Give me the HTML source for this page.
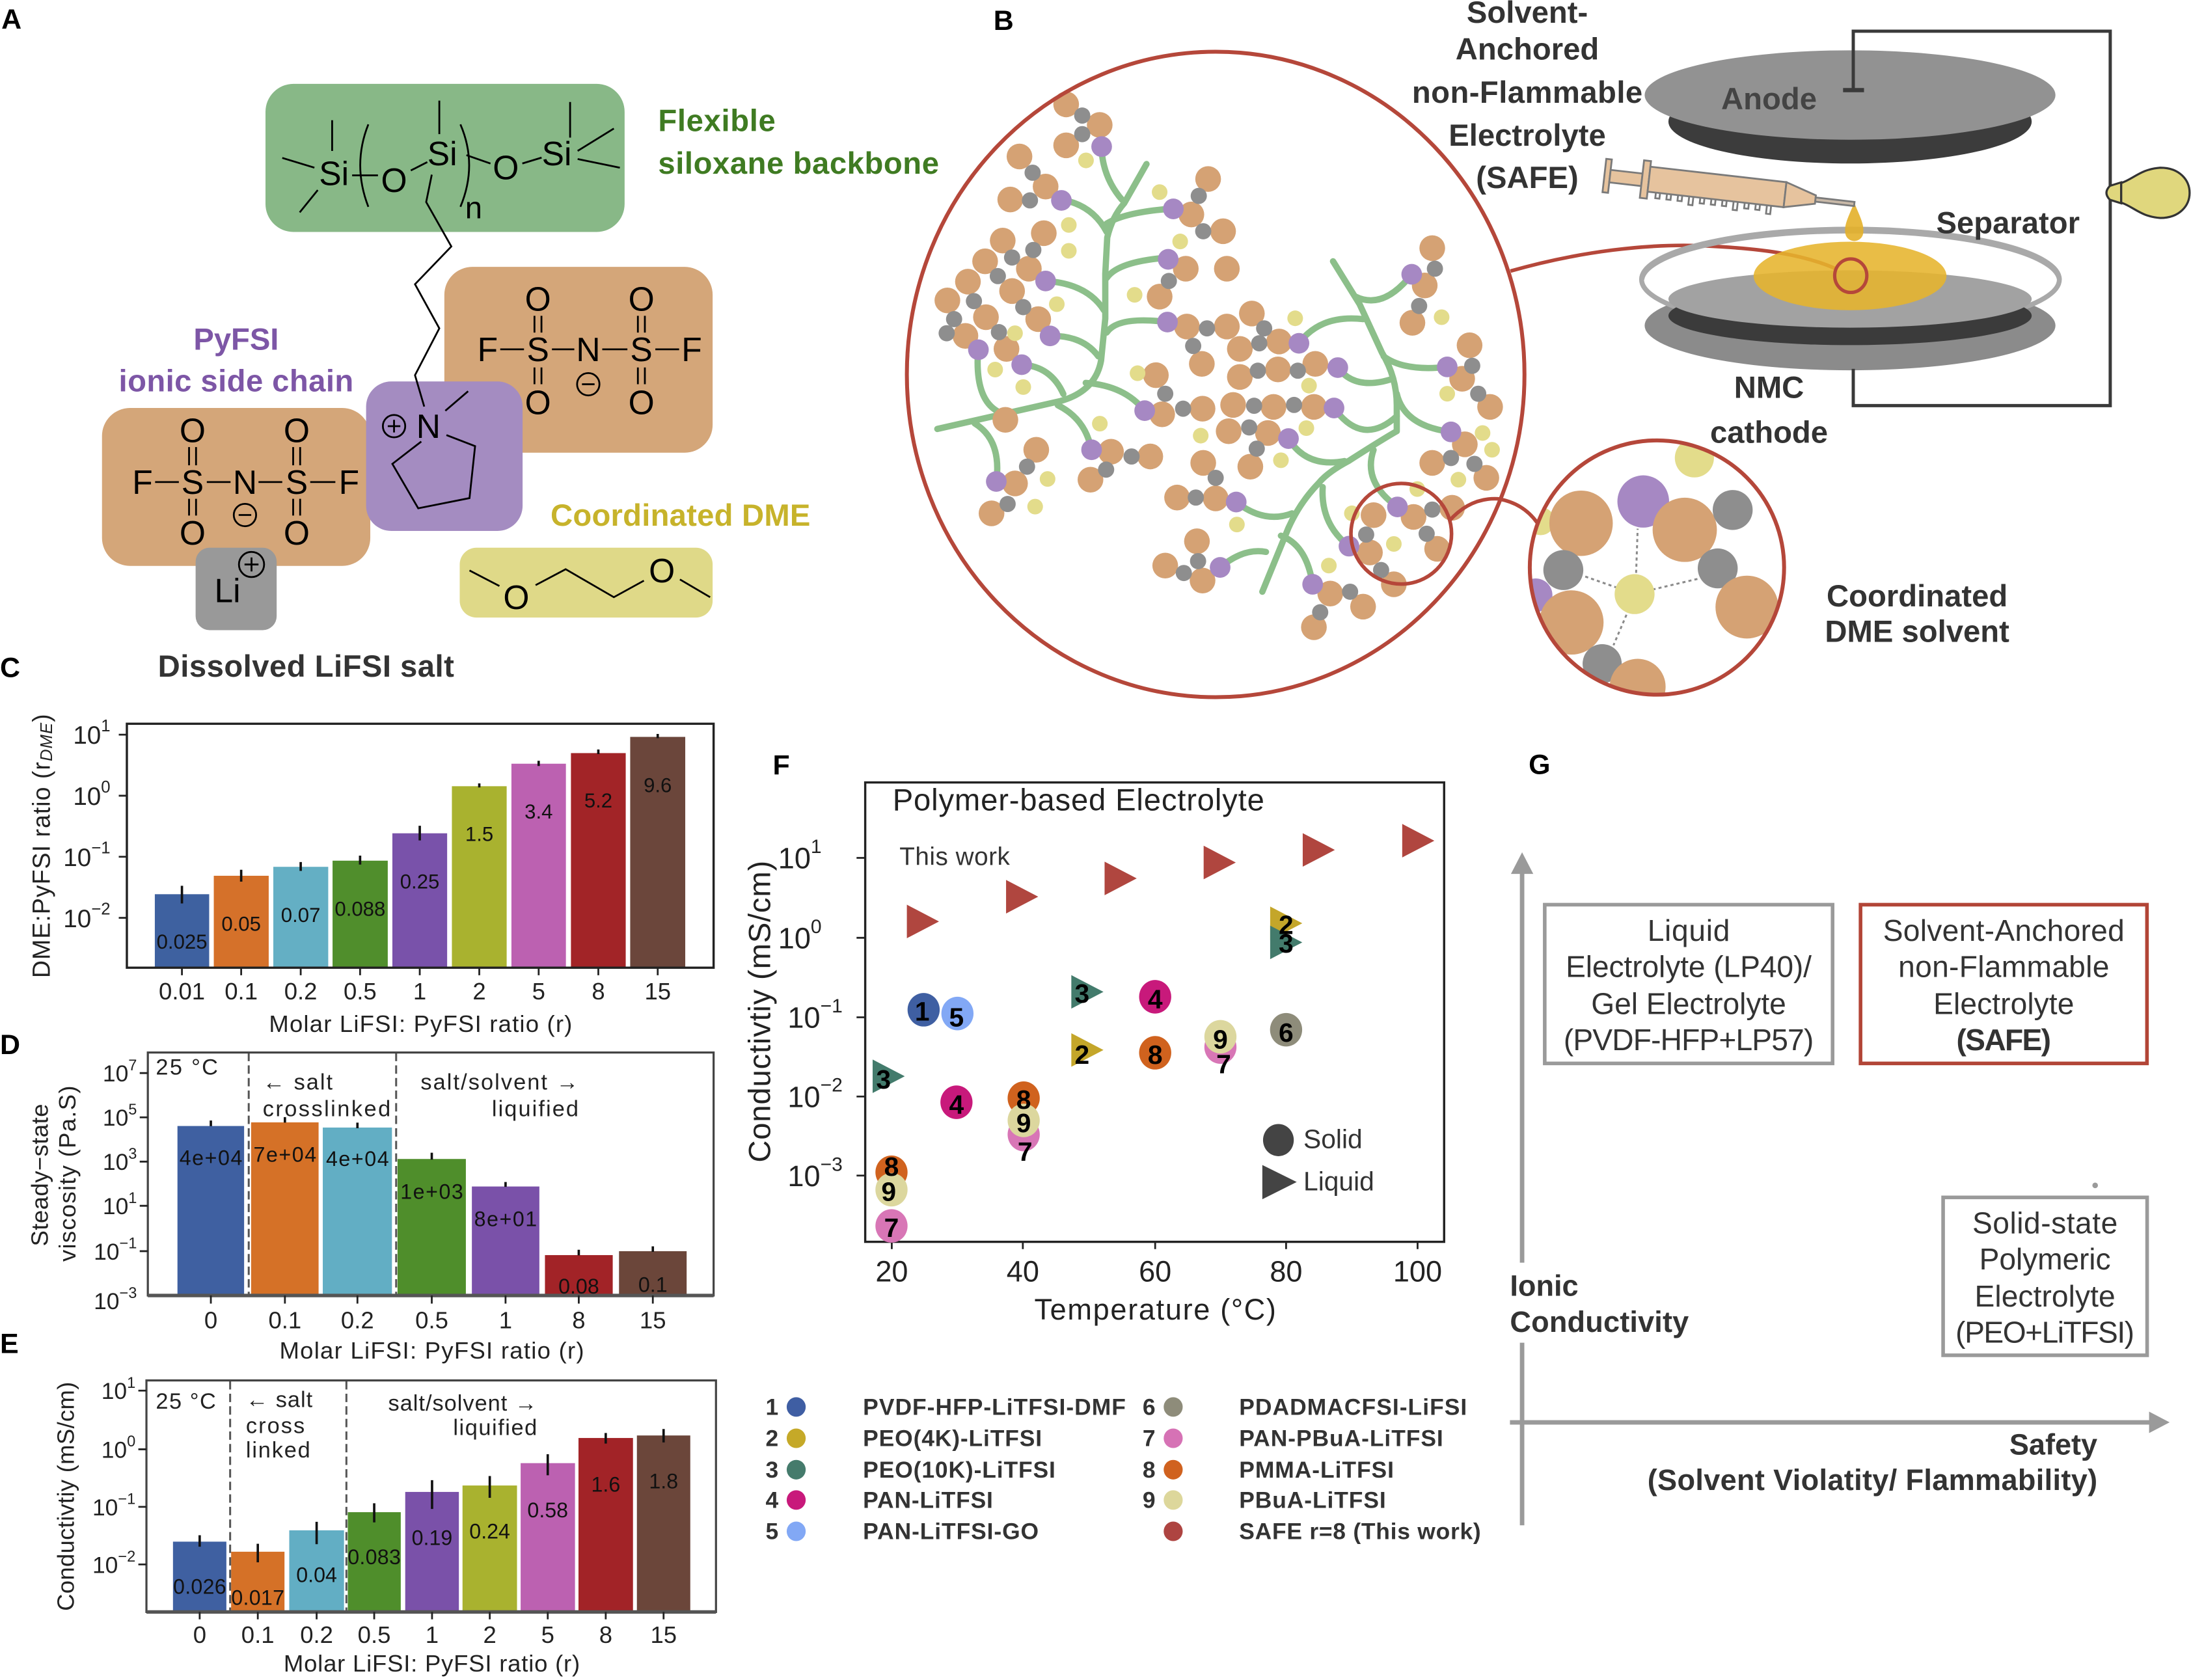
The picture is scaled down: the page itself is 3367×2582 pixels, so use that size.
<!DOCTYPE html>
<html><head><meta charset="utf-8">
<style>
html,body{margin:0;padding:0;background:#fff;}
svg{display:block;}
.o{fill:#d5a274}.g{fill:#8e8e8e}.p{fill:#a688c3}.y{fill:#e3dc8b}
.tr{fill:none;stroke:#8cbf8a;stroke-width:4.5;stroke-linecap:round;stroke-linejoin:round}
.bd{stroke:#000;stroke-width:1.3;fill:none}
.ch{font-size:24px;text-anchor:middle;dominant-baseline:central;fill:#000}
.lb{font-weight:bold;font-size:22px;dominant-baseline:central}
.pl{font-weight:bold;font-size:20px;dominant-baseline:central;fill:#000}
.c{dominant-baseline:central}
.m{text-anchor:middle}
.e{text-anchor:end}
.ax{fill:none;stroke:#222;stroke-width:1.6}
.eb{stroke:#111;stroke-width:1.7}
.tk{stroke:#222;stroke-width:1.3}
.dash{stroke:#555;stroke-width:1.4;stroke-dasharray:6 3}
.gb{fill:none;stroke:#9a9a9a;stroke-width:2.6}
</style></head><body>
<svg xmlns="http://www.w3.org/2000/svg" width="3367" height="2582" viewBox="0 0 1568 1202.4" font-family="'Liberation Sans', Arial, sans-serif">
<rect width="1568" height="1202.4" fill="#fff"/>

<!-- ================= PANEL A ================= -->
<text x="1" y="14" class="pl">A</text>
<rect x="190" y="60" width="257" height="106" rx="20" fill="#88b887"/>
<rect x="318" y="191" width="192" height="133" rx="20" fill="#d4a679"/>
<rect x="73" y="292" width="192" height="113" rx="20" fill="#d4a679"/>
<rect x="262" y="273" width="112" height="107" rx="18" fill="#a48cc1"/>
<rect x="140" y="392" width="58" height="59" rx="10" fill="#999"/>
<rect x="329" y="392" width="181" height="50" rx="12" fill="#dfd988"/>

<text x="239" y="124" class="ch">Si</text>
<text x="282" y="129" class="ch">O</text>
<text x="316.5" y="110" class="ch">Si</text>
<text x="339" y="149" class="ch" style="font-size:22px">n</text>
<text x="362" y="120" class="ch">O</text>
<text x="398.4" y="110" class="ch">Si</text>
<path class="bd" d="M202,113 L225,120 M237.7,86 L237.7,108 M214.5,152 L227.4,136 M252,125.5 L270.5,125.5 M263.6,89 Q252,118 263.6,148 M329.5,89 Q342,118 329.5,148 M294,122 L305.8,116 M314.4,72 L314.4,96 M333.8,111 L351,117 M373.8,117 L387.6,112.8 M408,73 L408,98.5 M413.4,108 L439.3,92 M413.4,113.8 L443.6,120"/>
<path class="bd" d="M309,125 L305,144.6 L323,176.4 L297,203.4 L314.4,235 L297,268.5 L303.6,291"/>

<text x="349" y="250" class="ch">F</text>
<text x="385" y="250" class="ch">S</text>
<text x="421" y="250" class="ch">N</text>
<text x="459" y="250" class="ch">S</text>
<text x="495" y="250" class="ch">F</text>
<text x="385" y="214" class="ch">O</text>
<text x="459" y="214" class="ch">O</text>
<text x="385" y="288" class="ch">O</text>
<text x="459" y="288" class="ch">O</text>
<path class="bd" d="M358,250 L375,250 M395,250 L411,250 M431,250 L449,250 M469,250 L486,250 M382.5,226 L382.5,238 M387.5,226 L387.5,238 M456.5,226 L456.5,238 M461.5,226 L461.5,238 M382.5,263 L382.5,275 M387.5,263 L387.5,275 M456.5,263 L456.5,275 M461.5,263 L461.5,275"/>
<circle cx="421" cy="275" r="8" class="bd"/><path class="bd" d="M416.5,275 L425.5,275"/>

<text x="102" y="345" class="ch">F</text>
<text x="137.8" y="345" class="ch">S</text>
<text x="175.3" y="345" class="ch">N</text>
<text x="212.3" y="345" class="ch">S</text>
<text x="249.8" y="345" class="ch">F</text>
<text x="137.8" y="308" class="ch">O</text>
<text x="212.3" y="308" class="ch">O</text>
<text x="137.8" y="381.3" class="ch">O</text>
<text x="212.3" y="381.3" class="ch">O</text>
<path class="bd" d="M111,345 L128,345 M148,345 L165,345 M185,345 L202,345 M222,345 L240,345 M135.3,320 L135.3,333 M140.3,320 L140.3,333 M209.8,320 L209.8,333 M214.8,320 L214.8,333 M135.3,357 L135.3,369 M140.3,357 L140.3,369 M209.8,357 L209.8,369 M214.8,357 L214.8,369"/>
<circle cx="175.3" cy="368.6" r="8" class="bd"/><path class="bd" d="M170.8,368.6 L179.8,368.6"/>

<circle cx="282" cy="305" r="8" class="bd"/><path class="bd" d="M277.5,305 L286.5,305 M282,300.5 L282,309.5"/>
<text x="306.6" y="305" class="ch">N</text>
<path class="bd" d="M318.7,294 L335,280 M301.5,316 L280.8,332 L299.3,363.8 L336,356.5 L340,319.3 L319.5,311.4"/>

<text x="162.8" y="422.6" class="ch">Li</text>
<circle cx="180" cy="404" r="9" class="bd"/><path class="bd" d="M175,404 L185,404 M180,399 L180,409"/>

<text x="369.5" y="427.4" class="ch">O</text>
<text x="473.7" y="408.3" class="ch">O</text>
<path class="bd" d="M336,408.3 L357.4,419.4 M383.3,418.8 L404.8,407.4 L439.3,427.4 L460.8,415.6 M486.6,414.7 L508.2,427.4"/>

<text x="471" y="86.5" class="lb" fill="#3f7b22" textLength="84">Flexible</text>
<text x="471" y="117" class="lb" fill="#3f7b22" textLength="201">siloxane backbone</text>
<text x="169" y="243" class="lb m" fill="#7d56a6" textLength="61">PyFSI</text>
<text x="169" y="273" class="lb m" fill="#7d56a6" textLength="168">ionic side chain</text>
<text x="394" y="369" class="lb" fill="#c7b32b" textLength="186">Coordinated DME</text>
<text x="113" y="477" class="lb" fill="#333" textLength="212">Dissolved LiFSI salt</text>

<!-- ================= PANEL B ================= -->
<text x="711" y="15" class="pl">B</text>

<g class="tr">
<path d="M670.8,307 L759,287 Q784,280 788,258 L791,228 L791,196 L792.4,170 Q796,155 804.5,145.5 L820.5,117.4"/>
<path d="M803,143 Q790,128 788.4,108"/>
<path d="M792,166 Q782,147 760.4,143"/>
<path d="M792,160 Q805,152 836.5,149.5"/>
<path d="M792,199 Q800,187 836.5,184.3"/>
<path d="M790,222 Q778,203 748.3,201.1"/>
<path d="M792,238 Q800,226 835.5,230.5"/>
<path d="M786,255 Q775,240 751.5,240.4"/>
<path d="M761,282 Q752,262 731,261"/>
<path d="M719,296.5 Q697,290 700,250.3"/>
<path d="M697.5,303 Q717,315 713,344.6"/>
<path d="M757,290 Q777,300 781,322"/>
<path d="M777,274 Q805,276 819,293.9"/>
<path d="M954,187 L973,217.7 L989,252.4 Q999.6,270 999.6,290 L999.6,308.6 Q990,314 965,330 Q950,338 943.5,346 Q930,360 922,378 L903.4,423.5"/>
<path d="M970.2,212.3 Q990,222 1010.3,196.3"/>
<path d="M975.5,228.4 Q945,225 929.6,245.7"/>
<path d="M990.2,255 Q1005,266 1035.7,262.6"/>
<path d="M997,271 Q970,280 957.4,263.1"/>
<path d="M999.6,281.8 Q1005,305 1038.4,309.1"/>
<path d="M999.6,297.9 Q975,320 954.7,292"/>
<path d="M962.2,330 Q935,335 922.1,313.9"/>
<path d="M983,322 Q975,345 1000.1,362.8"/>
<path d="M946.6,348.6 Q945,375 965.4,390.9"/>
<path d="M924.6,367.4 Q905,375 884.7,359.3"/>
<path d="M916.7,383.4 Q935,390 939.4,418.2"/>
<path d="M906,395 Q890,392 873.2,406.1"/>
</g>

<g class="o">
<circle cx="763" cy="74.7" r="9.2"/><circle cx="787" cy="89.4" r="9.2"/><circle cx="763" cy="104" r="9.2"/><circle cx="729.6" cy="112" r="9.2"/><circle cx="748.3" cy="133.5" r="9.2"/><circle cx="723" cy="142.8" r="9.2"/><circle cx="747" cy="166.9" r="9.2"/><circle cx="717.6" cy="172.2" r="9.2"/><circle cx="705" cy="187" r="9.2"/><circle cx="736.3" cy="192.3" r="9.2"/><circle cx="692.7" cy="201.6" r="9.2"/><circle cx="724.3" cy="208.3" r="9.2"/><circle cx="678" cy="215" r="9.2"/><circle cx="705.6" cy="227" r="9.2"/><circle cx="743" cy="228.4" r="9.2"/><circle cx="690.9" cy="240.4" r="9.2"/><circle cx="720.3" cy="249.7" r="9.2"/>
<circle cx="864.6" cy="128.1" r="9.2"/><circle cx="852.6" cy="153.5" r="9.2"/><circle cx="875.3" cy="165.5" r="9.2"/><circle cx="848.6" cy="192.3" r="9.2"/><circle cx="878" cy="192.3" r="9.2"/><circle cx="829.9" cy="212.3" r="9.2"/><circle cx="849.4" cy="233.7" r="9.2"/><circle cx="878" cy="233.7" r="9.2"/><circle cx="895.9" cy="224.4" r="9.2"/><circle cx="860.1" cy="260.4" r="9.2"/><circle cx="887.3" cy="249.7" r="9.2"/><circle cx="915.4" cy="244.4" r="9.2"/><circle cx="887.3" cy="269.8" r="9.2"/><circle cx="914.6" cy="264.4" r="9.2"/><circle cx="941.3" cy="260.4" r="9.2"/><circle cx="827.2" cy="268.5" r="9.2"/><circle cx="831.7" cy="296.5" r="9.2"/><circle cx="860.6" cy="292.5" r="9.2"/><circle cx="882.5" cy="289.8" r="9.2"/><circle cx="911.4" cy="291.2" r="9.2"/><circle cx="940.3" cy="291.2" r="9.2"/><circle cx="879.3" cy="308.6" r="9.2"/><circle cx="907.4" cy="309.9" r="9.2"/><circle cx="719.5" cy="300.5" r="9.2"/><circle cx="741.6" cy="321.9" r="9.2"/><circle cx="795.1" cy="323.3" r="9.2"/><circle cx="823.2" cy="326.7" r="9.2"/><circle cx="780.4" cy="343.3" r="9.2"/><circle cx="726.4" cy="346" r="9.2"/><circle cx="709.6" cy="367.4" r="9.2"/><circle cx="861.1" cy="331.3" r="9.2"/><circle cx="894.8" cy="334" r="9.2"/><circle cx="842.4" cy="356.1" r="9.2"/><circle cx="870" cy="356.7" r="9.2"/><circle cx="856.6" cy="387.4" r="9.2"/><circle cx="833.9" cy="404.8" r="9.2"/><circle cx="860.6" cy="415.5" r="9.2"/><circle cx="940.3" cy="448.9" r="9.2"/><circle cx="975.5" cy="434.2" r="9.2"/><circle cx="952" cy="424.8" r="9.2"/><circle cx="983" cy="368.7" r="9.2"/><circle cx="1011.6" cy="370" r="9.2"/><circle cx="980.4" cy="395.4" r="9.2"/><circle cx="1028.5" cy="392.8" r="9.2"/><circle cx="997.5" cy="418.2" r="9.2"/>
<circle cx="1025" cy="177.6" r="9.2"/><circle cx="1019.6" cy="204.3" r="9.2"/><circle cx="1010.8" cy="231" r="9.2"/><circle cx="1051.7" cy="247.1" r="9.2"/><circle cx="1046.4" cy="271.1" r="9.2"/><circle cx="1066.4" cy="291.2" r="9.2"/><circle cx="1048.3" cy="318" r="9.2"/><circle cx="1025" cy="331.3" r="9.2"/><circle cx="1063.7" cy="342" r="9.2"/><circle cx="1039.2" cy="363.4" r="9.2"/>
</g>
<g class="g">
<circle cx="774.5" cy="82.7" r="5.8"/><circle cx="774.5" cy="96" r="5.8"/><circle cx="739" cy="123.6" r="5.8"/><circle cx="737.1" cy="143.4" r="5.8"/><circle cx="739.5" cy="178.9" r="5.8"/><circle cx="724.3" cy="184.3" r="5.8"/><circle cx="714.1" cy="197.6" r="5.8"/><circle cx="697" cy="215.5" r="5.8"/><circle cx="682.8" cy="228.4" r="5.8"/><circle cx="677.5" cy="238.5" r="5.8"/><circle cx="732.3" cy="219.8" r="5.8"/><circle cx="714.9" cy="237.7" r="5.8"/><circle cx="857.9" cy="140.2" r="5.8"/><circle cx="861.1" cy="165.5" r="5.8"/><circle cx="836.5" cy="201.1" r="5.8"/><circle cx="863.8" cy="235" r="5.8"/><circle cx="853.9" cy="247.6" r="5.8"/><circle cx="904.7" cy="235" r="5.8"/><circle cx="901.2" cy="245.7" r="5.8"/><circle cx="900.2" cy="265.3" r="5.8"/><circle cx="928.8" cy="265.3" r="5.8"/><circle cx="833.9" cy="281.8" r="5.8"/><circle cx="846.7" cy="292.5" r="5.8"/><circle cx="897.5" cy="290.4" r="5.8"/><circle cx="926.1" cy="289.8" r="5.8"/><circle cx="894" cy="305.9" r="5.8"/><circle cx="899.4" cy="321.1" r="5.8"/><circle cx="809.8" cy="326.7" r="5.8"/><circle cx="791.6" cy="336.1" r="5.8"/><circle cx="735" cy="334" r="5.8"/><circle cx="721.1" cy="360.7" r="5.8"/><circle cx="870" cy="342" r="5.8"/><circle cx="855.8" cy="356.1" r="5.8"/><circle cx="857.4" cy="401.6" r="5.8"/><circle cx="847.2" cy="410.1" r="5.8"/><circle cx="966.2" cy="423.5" r="5.8"/><circle cx="944.8" cy="438.2" r="5.8"/><circle cx="977.7" cy="382.6" r="5.8"/><circle cx="988.4" cy="408" r="5.8"/><circle cx="1021" cy="382" r="5.8"/><circle cx="1025" cy="364.7" r="5.8"/><circle cx="1026.9" cy="192.3" r="5.8"/><circle cx="1015.6" cy="219" r="5.8"/><circle cx="1053.6" cy="261.8" r="5.8"/><circle cx="1057.9" cy="281.8" r="5.8"/><circle cx="1038.4" cy="327.8" r="5.8"/><circle cx="1055.2" cy="332" r="5.8"/>
</g>
<g class="p">
<circle cx="788.4" cy="104.9" r="7.4"/><circle cx="759.6" cy="143.4" r="7.4"/><circle cx="748.3" cy="201.1" r="7.4"/><circle cx="751.5" cy="240.4" r="7.4"/><circle cx="700.2" cy="250.3" r="7.4"/><circle cx="731.2" cy="261" r="7.4"/><circle cx="839.7" cy="149.5" r="7.4"/><circle cx="836" cy="185.6" r="7.4"/><circle cx="835.5" cy="230.5" r="7.4"/><circle cx="929.6" cy="245.7" r="7.4"/><circle cx="957.4" cy="263.1" r="7.4"/><circle cx="819.2" cy="293.9" r="7.4"/><circle cx="954.7" cy="292" r="7.4"/><circle cx="922.1" cy="313.9" r="7.4"/><circle cx="781.2" cy="321.9" r="7.4"/><circle cx="713" cy="344.6" r="7.4"/><circle cx="884.7" cy="359.3" r="7.4"/><circle cx="873.2" cy="406.1" r="7.4"/><circle cx="939.4" cy="418.2" r="7.4"/><circle cx="965.4" cy="390.9" r="7.4"/><circle cx="1000.1" cy="362.8" r="7.4"/><circle cx="1010.3" cy="196.3" r="7.4"/><circle cx="1035.7" cy="262.6" r="7.4"/><circle cx="1038.4" cy="309.1" r="7.4"/>
</g>
<g class="y">
<circle cx="777.2" cy="114.8" r="5.6"/><circle cx="829.9" cy="137.5" r="5.6"/><circle cx="764.9" cy="161" r="5.6"/><circle cx="764.9" cy="179.5" r="5.6"/><circle cx="844.6" cy="172.8" r="5.6"/><circle cx="812" cy="211" r="5.6"/><circle cx="756.3" cy="217.7" r="5.6"/><circle cx="726.4" cy="238.5" r="5.6"/><circle cx="712.2" cy="264.5" r="5.6"/><circle cx="732.3" cy="277" r="5.6"/><circle cx="814.1" cy="267.1" r="5.6"/><circle cx="926.9" cy="227.8" r="5.6"/><circle cx="936.8" cy="276" r="5.6"/><circle cx="787.1" cy="303.2" r="5.6"/><circle cx="859.3" cy="311.8" r="5.6"/><circle cx="934.9" cy="306.4" r="5.6"/><circle cx="749.7" cy="342.8" r="5.6"/><circle cx="740.8" cy="362.6" r="5.6"/><circle cx="916.7" cy="329.4" r="5.6"/><circle cx="885.2" cy="375.4" r="5.6"/><circle cx="951" cy="404.8" r="5.6"/><circle cx="997.5" cy="389.3" r="5.6"/><circle cx="1031.7" cy="227" r="5.6"/><circle cx="1035.7" cy="281.8" r="5.6"/><circle cx="1061" cy="309.9" r="5.6"/><circle cx="1067.8" cy="321.9" r="5.6"/><circle cx="1043.7" cy="343.3" r="5.6"/><circle cx="1014.3" cy="350" r="5.6"/><circle cx="967.5" cy="367.4" r="5.6"/>
</g>

<ellipse cx="870" cy="268" rx="221" ry="231" fill="none" stroke="#b5473a" stroke-width="2.8"/>
<circle cx="1002.8" cy="382" r="36" fill="none" stroke="#b5473a" stroke-width="2.6"/>
<path d="M1037,373 Q1052,356 1072,357 Q1090,360 1100,374" fill="none" stroke="#b5473a" stroke-width="2.6"/>
<path d="M1081,194 C1130,180 1180,174 1221,176 S1290,182 1313,192" fill="none" stroke="#b5473a" stroke-width="2.6"/>

<defs><clipPath id="zc"><circle cx="1185.8" cy="406.2" r="91"/></clipPath></defs>
<g clip-path="url(#zc)">
<circle cx="1212.6" cy="327.7" r="14" class="y"/>
<circle cx="1102.6" cy="373" r="10" class="y"/>
<circle cx="1099" cy="426" r="12" class="p"/>
<path d="M1169.8,425 L1132.7,412 M1169.8,425 L1215,414.3 M1170.9,410 L1172,378.4 M1164,440 L1154.7,461.8" stroke="#8a8a8a" stroke-width="1.4" stroke-dasharray="2.2 2.2" fill="none"/>
<ellipse cx="1176" cy="358.9" rx="18.5" ry="18.7" class="p"/>
<ellipse cx="1131.5" cy="374.5" rx="22.7" ry="23.4" class="o"/>
<circle cx="1205.7" cy="379.2" r="23" class="o"/>
<circle cx="1240" cy="365" r="14.3" class="g"/>
<circle cx="1118.8" cy="408" r="14.3" class="g"/>
<circle cx="1229.3" cy="406.8" r="14.3" class="g"/>
<circle cx="1169.8" cy="425.2" r="14.3" class="y"/>
<circle cx="1124.6" cy="445.5" r="23" class="o"/>
<circle cx="1250.2" cy="434.5" r="22.5" class="o"/>
<circle cx="1146.6" cy="475" r="14" class="g"/>
<circle cx="1172" cy="491.5" r="20" class="o"/>
</g>
<circle cx="1185.8" cy="406.2" r="91" fill="none" stroke="#b5473a" stroke-width="2.8"/>

<ellipse cx="1324" cy="233" rx="147" ry="32" fill="#8b8b8b"/>
<ellipse cx="1324.3" cy="200" rx="149.5" ry="36" fill="none" stroke="#a9a9a9" stroke-width="3.5"/>
<ellipse cx="1324" cy="226" rx="130" ry="21" fill="#3b3b3b"/>
<ellipse cx="1324" cy="214" rx="130" ry="20.5" fill="#a2a2a2"/>
<path d="M1175,200 A149.5,36 0 0 1 1473.8,200" fill="none" stroke="#a9a9a9" stroke-width="3.5"/>
<ellipse cx="1324" cy="197.5" rx="69" ry="24.5" fill="#e6b42c" opacity="0.88"/>
<path d="M1327,145 C1331,155 1334,160 1333.5,166 A6.5,6.5 0 0 1 1320.5,166 C1320,160 1323,155 1327,145 Z" fill="#e3b02a" opacity="0.9"/>
<ellipse cx="1324.5" cy="197.3" rx="11.5" ry="12" fill="none" stroke="#b5473a" stroke-width="2.4"/>

<ellipse cx="1324" cy="87" rx="130" ry="30" fill="#3c3c3c"/>
<ellipse cx="1324" cy="68" rx="147" ry="32" fill="#929292"/>
<text x="1266" y="71" class="lb m" fill="#444">Anode</text>

<polyline points="1326.3,64 1326.3,22.3 1510.2,22.3 1510.2,290.3 1326.3,290.3 1326.3,264" fill="none" stroke="#3a3a3a" stroke-width="2.3"/>
<path d="M1319,64.5 L1334,64.5" stroke="#3a3a3a" stroke-width="3"/>

<path d="M1518,131 C1527,128 1532,121 1546,120 C1560,120 1567,129 1567,138 C1567,147 1560,156 1546,156 C1532,155 1527,148 1518,145 Z" fill="#e0d77d" stroke="#333" stroke-width="1.5"/>
<path d="M1518,130.5 L1518,145.5 L1510,143 Q1505,138 1510,133 Z" fill="#e0d77d" stroke="#333" stroke-width="1.5"/>

<g transform="translate(1178,129) rotate(6.5)" stroke="#7a7a7a" stroke-width="1.3" fill="#e6c39e">
<rect x="-30" y="-12" width="4" height="24"/>
<rect x="-26" y="-4.5" width="23" height="9"/>
<rect x="-3" y="-14" width="5" height="27"/>
<rect x="2" y="-10" width="98" height="18"/>
<path d="M8,8 v4 h3 v-4 M16,8 v4 h3 v-4 M24,8 v4 h3 v-4 M32,8 v6 h3 v-6 M40,8 v4 h3 v-4 M48,8 v4 h3 v-4 M56,8 v4 h3 v-4 M64,8 v6 h3 v-6 M72,8 v4 h3 v-4 M80,8 v4 h3 v-4 M88,8 v6 h3 v-6" fill="none"/>
<polygon points="100,-10 122,-3 122,3 100,8"/>
<rect x="122" y="-1.5" width="28" height="3" fill="#c9b9a8"/>
</g>

<text x="1093" y="9" class="lb m" fill="#333">Solvent-</text>
<text x="1093" y="35.3" class="lb m" fill="#333">Anchored</text>
<text x="1093" y="66.4" class="lb m" fill="#333" textLength="165">non-Flammable</text>
<text x="1093" y="97" class="lb m" fill="#333">Electrolyte</text>
<text x="1093" y="127.4" class="lb m" fill="#333">(SAFE)</text>
<text x="1437" y="159.8" class="lb m" fill="#333">Separator</text>
<text x="1266" y="277.5" class="lb m" fill="#333">NMC</text>
<text x="1266" y="309.6" class="lb m" fill="#333">cathode</text>
<text x="1372" y="426.7" class="lb m" fill="#333">Coordinated</text>
<text x="1372" y="452.3" class="lb m" fill="#333">DME solvent</text>

<!-- ================= PANEL C ================= -->
<text x="0" y="478" class="pl">C</text>
<g>
<rect x="110.8" y="640" width="38.9" height="52.6" fill="#3e61a0"/>
<rect x="153" y="626.8" width="39.3" height="65.8" fill="#d5712a"/>
<rect x="195.6" y="620.4" width="39.3" height="72.2" fill="#64afc4"/>
<rect x="238" y="616" width="39.5" height="76.6" fill="#508e2c"/>
<rect x="280.8" y="596.4" width="39.2" height="96.2" fill="#7952aa"/>
<rect x="323.4" y="562.7" width="39.2" height="129.9" fill="#a9b22f"/>
<rect x="366" y="546.6" width="39" height="146" fill="#bc61b1"/>
<rect x="408.6" y="539" width="39.2" height="153.6" fill="#a22427"/>
<rect x="451" y="527.4" width="39.4" height="165.2" fill="#6b463b"/>
<path class="eb" d="M130.2,634 V646.6 M172.6,622.5 V631 M215.2,617 V623.3 M257.7,612.4 V618.8 M300.4,591 V601.5 M343,560.7 V563.6 M385.5,544.5 V548.2 M428.2,536.4 V539.7 M470.7,525.3 V528.3"/>
</g>
<rect x="90.8" y="518" width="419.9" height="174.6" class="ax"/>
<g font-size="14.5" class="m" fill="#111">
<text x="130.2" y="674" class="c m">0.025</text>
<text x="172.6" y="661.3" class="c m">0.05</text>
<text x="215.2" y="655" class="c m">0.07</text>
<text x="257.7" y="650.6" class="c m">0.088</text>
<text x="300.4" y="631" class="c m">0.25</text>
<text x="343" y="597" class="c m">1.5</text>
<text x="385.5" y="581" class="c m">3.4</text>
<text x="428.2" y="573" class="c m">5.2</text>
<text x="470.7" y="562" class="c m">9.6</text>
</g>
<path class="tk" d="M85,525.8 H90.8 M85,569.5 H90.8 M85,613.2 H90.8 M85,656.9 H90.8 M130.2,692.6 V698 M172.6,692.6 V698 M215.2,692.6 V698 M257.7,692.6 V698 M300.4,692.6 V698 M343,692.6 V698 M385.5,692.6 V698 M428.2,692.6 V698 M470.7,692.6 V698"/>
<g font-size="18" fill="#222">
<text x="79" y="532.4" class="e">10<tspan dy="-9" font-size="12">1</tspan></text>
<text x="79" y="576.1" class="e">10<tspan dy="-9" font-size="12">0</tspan></text>
<text x="79" y="619.8" class="e">10<tspan dy="-9" font-size="12">−1</tspan></text>
<text x="79" y="663.5" class="e">10<tspan dy="-9" font-size="12">−2</tspan></text>
</g>
<g font-size="17" fill="#222">
<text x="130.2" y="709.4" class="c m">0.01</text>
<text x="172.6" y="709.4" class="c m">0.1</text>
<text x="215.2" y="709.4" class="c m">0.2</text>
<text x="257.7" y="709.4" class="c m">0.5</text>
<text x="300.4" y="709.4" class="c m">1</text>
<text x="343" y="709.4" class="c m">2</text>
<text x="385.5" y="709.4" class="c m">5</text>
<text x="428.2" y="709.4" class="c m">8</text>
<text x="470.7" y="709.4" class="c m">15</text>
<text x="301" y="732.7" class="c m" textLength="217">Molar LiFSI: PyFSI ratio (r)</text>
</g>
<text transform="translate(29.5,605.5) rotate(-90)" font-size="17.5" fill="#222" class="c m" textLength="189">DME:PyFSI ratio (r<tspan font-style="italic" font-size="12" dy="4">DME</tspan><tspan dy="-4">)</tspan></text>

<!-- ================= PANEL D ================= -->
<text x="0" y="748" class="pl">D</text>
<rect x="127" y="805.9" width="47.7" height="121.3" fill="#3f60a1"/>
<rect x="179.7" y="803.3" width="48.3" height="123.9" fill="#d57127"/>
<rect x="231" y="807" width="49.5" height="120.2" fill="#62aec4"/>
<rect x="284.5" y="829.5" width="48.9" height="97.7" fill="#4f8e2b"/>
<rect x="337.7" y="849.2" width="48.3" height="78" fill="#7a51a9"/>
<rect x="390" y="898.3" width="48.5" height="28.9" fill="#a22327"/>
<rect x="443" y="895.5" width="48.4" height="31.7" fill="#6b463a"/>
<path class="eb" d="M150.9,802 V806 M203.9,799.5 V803.5 M255.8,803.5 V807.5 M309,825 V830 M361.8,846 V849.5 M414.2,894.5 V898.5 M467.2,892 V896"/>
<path class="dash" d="M178,753.5 V927 M283.5,753.5 V927"/>
<rect x="105.8" y="753.3" width="404.9" height="173.9" fill="none" stroke="#444" stroke-width="1.5"/>
<path d="M105.8,927.2 H510.7" stroke="#555" stroke-width="2.5"/>
<g font-size="15" fill="#111">
<text x="150.9" y="828.8" class="c m" textLength="45">4e+04</text>
<text x="203.9" y="826.3" class="c m" textLength="45">7e+04</text>
<text x="255.8" y="829.4" class="c m" textLength="45">4e+04</text>
<text x="309" y="853" class="c m" textLength="45">1e+03</text>
<text x="361.8" y="872.4" class="c m" textLength="45">8e+01</text>
<text x="414.2" y="920.6" class="c m">0.08</text>
<text x="467.2" y="919.5" class="c m">0.1</text>
</g>
<g font-size="16" fill="#222">
<text x="111.5" y="764" class="c" textLength="44.5">25 °C</text>
<text x="188" y="774.6" class="c" textLength="50">← salt</text>
<text x="188" y="793.8" class="c" textLength="91.5">crosslinked</text>
<text x="414" y="774.6" class="c e" textLength="113">salt/solvent →</text>
<text x="414" y="793.8" class="c e" textLength="62">liquified</text>
</g>
<path class="tk" d="M100,768 H105.8 M100,799.7 H105.8 M100,831.4 H105.8 M100,863 H105.8 M100,895.5 H105.8 M150.9,927.2 V933 M203.9,927.2 V933 M255.8,927.2 V933 M309,927.2 V933 M361.8,927.2 V933 M414.2,927.2 V933 M467.2,927.2 V933"/>
<g font-size="16.5" fill="#222">
<text x="98" y="774" class="e">10<tspan dy="-8" font-size="11">7</tspan></text>
<text x="98" y="805.7" class="e">10<tspan dy="-8" font-size="11">5</tspan></text>
<text x="98" y="837.4" class="e">10<tspan dy="-8" font-size="11">3</tspan></text>
<text x="98" y="869" class="e">10<tspan dy="-8" font-size="11">1</tspan></text>
<text x="98" y="901.5" class="e">10<tspan dy="-8" font-size="11">−1</tspan></text>
<text x="98" y="937" class="e">10<tspan dy="-8" font-size="11">−3</tspan></text>
</g>
<g font-size="17" fill="#222">
<text x="150.9" y="945" class="c m">0</text>
<text x="203.9" y="945" class="c m">0.1</text>
<text x="255.8" y="945" class="c m">0.2</text>
<text x="309" y="945" class="c m">0.5</text>
<text x="361.8" y="945" class="c m">1</text>
<text x="414.2" y="945" class="c m">8</text>
<text x="467.2" y="945" class="c m">15</text>
<text x="309" y="966.6" class="c m" textLength="218">Molar LiFSI: PyFSI ratio (r)</text>
</g>
<text transform="translate(28.3,841) rotate(-90)" font-size="17" fill="#222" class="c m" textLength="102">Steady−state</text>
<text transform="translate(48.3,840) rotate(-90)" font-size="17" fill="#222" class="c m" textLength="126">viscosity (Pa.S)</text>

<!-- ================= PANEL E ================= -->
<text x="0" y="962" class="pl">E</text>
<rect x="123.8" y="1103.4" width="38.2" height="50.3" fill="#3f60a1"/>
<rect x="165.4" y="1110.6" width="38.2" height="43.1" fill="#d57127"/>
<rect x="207" y="1095.3" width="39.2" height="58.4" fill="#62aec4"/>
<rect x="248.9" y="1082.3" width="37.9" height="71.4" fill="#4f8e2b"/>
<rect x="290" y="1067.8" width="38.4" height="85.9" fill="#7a51a9"/>
<rect x="331" y="1063.2" width="39" height="90.5" fill="#a9b22f"/>
<rect x="372.6" y="1047.2" width="38.9" height="106.5" fill="#bc61b1"/>
<rect x="414" y="1029.2" width="39" height="124.5" fill="#a22327"/>
<rect x="455.8" y="1027.4" width="38.2" height="126.3" fill="#6b463a"/>
<path class="eb" d="M142.9,1098.8 V1107 M184.5,1104.9 V1118.2 M226.6,1089.2 V1105.2 M267.8,1075.9 V1089.6 M309.2,1059.4 V1080 M350.5,1056.4 V1072 M392,1040.8 V1055.9 M433.5,1025.6 V1033.2 M474.9,1022.8 V1032.4"/>
<path class="dash" d="M164.7,988.5 V1153 M247.9,988.5 V1153"/>
<rect x="104.8" y="988" width="407.6" height="165.7" fill="none" stroke="#444" stroke-width="1.5"/>
<path d="M104.8,1153.7 H512.4" stroke="#555" stroke-width="2.5"/>
<g font-size="15" fill="#111">
<text x="142.9" y="1135.7" class="c m" textLength="38">0.026</text>
<text x="184.5" y="1143.4" class="c m" textLength="38">0.017</text>
<text x="226.6" y="1127.3" class="c m">0.04</text>
<text x="267.8" y="1114.4" class="c m" textLength="38">0.083</text>
<text x="309.2" y="1100.6" class="c m">0.19</text>
<text x="350.5" y="1096" class="c m">0.24</text>
<text x="392" y="1080.8" class="c m">0.58</text>
<text x="433.5" y="1062.5" class="c m">1.6</text>
<text x="474.9" y="1060.2" class="c m">1.8</text>
</g>
<g font-size="16" fill="#222">
<text x="111.5" y="1003" class="c" textLength="43">25 °C</text>
<text x="176" y="1002" class="c" textLength="47.6">← salt</text>
<text x="176" y="1020.5" class="c" textLength="42">cross</text>
<text x="176" y="1038" class="c" textLength="46">linked</text>
<text x="384.3" y="1004.5" class="c e" textLength="106.5">salt/solvent →</text>
<text x="384.3" y="1022" class="c e" textLength="60">liquified</text>
</g>
<path class="tk" d="M99,995.3 H104.8 M99,1037.3 H104.8 M99,1078.5 H104.8 M99,1119.7 H104.8 M142.9,1153.7 V1159 M184.5,1153.7 V1159 M226.6,1153.7 V1159 M267.8,1153.7 V1159 M309.2,1153.7 V1159 M350.5,1153.7 V1159 M392,1153.7 V1159 M433.5,1153.7 V1159 M474.9,1153.7 V1159"/>
<g font-size="16.5" fill="#222">
<text x="97" y="1001.3" class="e">10<tspan dy="-8" font-size="11">1</tspan></text>
<text x="97" y="1043.3" class="e">10<tspan dy="-8" font-size="11">0</tspan></text>
<text x="97" y="1084.5" class="e">10<tspan dy="-8" font-size="11">−1</tspan></text>
<text x="97" y="1125.7" class="e">10<tspan dy="-8" font-size="11">−2</tspan></text>
</g>
<g font-size="17" fill="#222">
<text x="142.9" y="1170" class="c m">0</text>
<text x="184.5" y="1170" class="c m">0.1</text>
<text x="226.6" y="1170" class="c m">0.2</text>
<text x="267.8" y="1170" class="c m">0.5</text>
<text x="309.2" y="1170" class="c m">1</text>
<text x="350.5" y="1170" class="c m">2</text>
<text x="392" y="1170" class="c m">5</text>
<text x="433.5" y="1170" class="c m">8</text>
<text x="474.9" y="1170" class="c m">15</text>
<text x="309" y="1190.6" class="c m" textLength="212">Molar LiFSI: PyFSI ratio (r)</text>
</g>
<text transform="translate(47,1071) rotate(-90)" font-size="17" fill="#222" class="c m" textLength="164">Conductivtiy (mS/cm)</text>

<!-- ================= PANEL F ================= -->
<text x="553" y="548" class="pl">F</text>
<rect x="619.2" y="560" width="414.3" height="328.8" class="ax"/>
<path class="tk" d="M613,614 H619.2 M613,671.2 H619.2 M613,728.1 H619.2 M613,784.8 H619.2 M613,841.4 H619.2 M638.2,888.8 V894 M732,888.8 V894 M826.7,888.8 V894 M920.4,888.8 V894 M1014.5,888.8 V894"/>
<g font-size="21" fill="#222">
<text x="588" y="621.5" class="e">10<tspan dy="-11" font-size="14">1</tspan></text>
<text x="588" y="678.7" class="e">10<tspan dy="-11" font-size="14">0</tspan></text>
<text x="603" y="735.6" class="e">10<tspan dy="-11" font-size="14">−1</tspan></text>
<text x="603" y="792.3" class="e">10<tspan dy="-11" font-size="14">−2</tspan></text>
<text x="603" y="848.9" class="e">10<tspan dy="-11" font-size="14">−3</tspan></text>
<text x="638.2" y="910" class="c m">20</text>
<text x="732" y="910" class="c m">40</text>
<text x="826.7" y="910" class="c m">60</text>
<text x="920.4" y="910" class="c m">80</text>
<text x="1014.5" y="910" class="c m">100</text>
<text x="826.7" y="937.3" class="c m" textLength="173">Temperature (°C)</text>
</g>
<text transform="translate(544,724) rotate(-90)" font-size="22" fill="#222" class="c m" textLength="216">Conductivtiy (mS/cm)</text>
<text x="638.8" y="572.9" font-size="22" fill="#222" class="c" textLength="266">Polymer-based Electrolyte</text>
<text x="643.7" y="613.2" font-size="18" fill="#333" class="c" textLength="79">This work</text>

<g fill="#b0463f">
<polygon points="649,647.5 672,659.5 649,671.5"/>
<polygon points="720,629.8 743,641.8 720,653.8"/>
<polygon points="790.5,616.7 813.5,628.7 790.5,640.7"/>
<polygon points="861.4,605.3 884.4,617.3 861.4,629.3"/>
<polygon points="932.3,596.3 955.3,608.3 932.3,620.3"/>
<polygon points="1003.5,589.7 1026.5,601.7 1003.5,613.7"/>
</g>
<g font-weight="bold" font-size="19" fill="#000">
<polygon points="909,648.8 932,660.8 909,672.8" fill="#c4a62a"/>
<polygon points="909,662.5 932,674.5 909,686.5" fill="#437b6c"/>
<text x="920.4" y="662" class="c m">2</text>
<text x="920.4" y="675.3" class="c m">3</text>
<ellipse cx="661" cy="722.7" rx="11.5" ry="12" fill="#3f5fa2"/>
<text x="660" y="724" class="c m">1</text>
<ellipse cx="685.2" cy="725.4" rx="11.5" ry="12" fill="#82a8f5"/>
<text x="684.5" y="728" class="c m">5</text>
<polygon points="624.5,758.3 647.5,770.3 624.5,782.3" fill="#437b6c"/>
<text x="632.3" y="772.5" class="c m">3</text>
<ellipse cx="684.5" cy="788.9" rx="11.5" ry="12" fill="#c8197b"/>
<text x="684.5" y="790.5" class="c m">4</text>
<ellipse cx="732.6" cy="786" rx="11.5" ry="12" fill="#d0621e"/>
<ellipse cx="732.6" cy="812" rx="11.5" ry="12" fill="#d876b6"/>
<ellipse cx="732.6" cy="801.9" rx="11.5" ry="12" fill="#dcd79e"/>
<text x="732.6" y="787" class="c m">8</text>
<text x="732.6" y="803.8" class="c m">9</text>
<text x="733.6" y="824.3" class="c m">7</text>
<ellipse cx="638" cy="839" rx="11.5" ry="12" fill="#d0621e"/>
<ellipse cx="638" cy="851.5" rx="11.5" ry="12" fill="#dcd79e"/>
<ellipse cx="638" cy="877.4" rx="11.5" ry="12" fill="#d876b6"/>
<text x="638" y="835" class="c m">8</text>
<text x="636" y="852.9" class="c m">9</text>
<text x="638" y="878.8" class="c m">7</text>
<polygon points="766.7,697.9 789.7,709.9 766.7,721.9" fill="#437b6c"/>
<text x="774.4" y="711.2" class="c m">3</text>
<polygon points="766.7,739.5 789.7,751.5 766.7,763.5" fill="#c4a62a"/>
<text x="774.4" y="754.8" class="c m">2</text>
<ellipse cx="826.7" cy="713.4" rx="11.5" ry="12" fill="#c8197b"/>
<text x="826.7" y="715" class="c m">4</text>
<ellipse cx="826.7" cy="753.5" rx="11.5" ry="12" fill="#d0621e"/>
<text x="826.7" y="755" class="c m">8</text>
<ellipse cx="873.4" cy="749.4" rx="11.5" ry="12" fill="#d876b6"/>
<ellipse cx="873.4" cy="742" rx="11.5" ry="12" fill="#dcd79e"/>
<text x="873.4" y="744" class="c m">9</text>
<text x="875.7" y="761.6" class="c m">7</text>
<ellipse cx="920.4" cy="737" rx="11.5" ry="12" fill="#8e8c7a"/>
<text x="920.4" y="739" class="c m">6</text>
</g>
<ellipse cx="914.9" cy="816" rx="11" ry="11.5" fill="#444"/>
<polygon points="903.4,833.8 928,846 903.4,858.3" fill="#444"/>
<text x="932.8" y="815.3" font-size="19" fill="#333" class="c">Solid</text>
<text x="932.8" y="845.5" font-size="19" fill="#333" class="c">Liquid</text>

<g font-weight="bold" font-size="16.5" fill="#333">
<text x="552.5" y="1007" class="c m">1</text>
<text x="552.5" y="1029.4" class="c m">2</text>
<text x="552.5" y="1051.9" class="c m">3</text>
<text x="552.5" y="1073.6" class="c m">4</text>
<text x="552.5" y="1096" class="c m">5</text>
<text x="822.3" y="1007" class="c m">6</text>
<text x="822.3" y="1029.4" class="c m">7</text>
<text x="822.3" y="1051.9" class="c m">8</text>
<text x="822.3" y="1073.6" class="c m">9</text>
<text x="617.6" y="1007" class="c" textLength="188">PVDF-HFP-LiTFSI-DMF</text>
<text x="617.6" y="1029.4" class="c" textLength="128">PEO(4K)-LiTFSI</text>
<text x="617.6" y="1051.9" class="c" textLength="137.7">PEO(10K)-LiTFSI</text>
<text x="617.6" y="1073.6" class="c" textLength="93">PAN-LiTFSI</text>
<text x="617.6" y="1096" class="c" textLength="125.7">PAN-LiTFSI-GO</text>
<text x="886.8" y="1007" class="c" textLength="163">PDADMACFSI-LiFSI</text>
<text x="886.8" y="1029.4" class="c" textLength="146">PAN-PBuA-LiTFSI</text>
<text x="886.8" y="1051.9" class="c" textLength="110.7">PMMA-LiTFSI</text>
<text x="886.8" y="1073.6" class="c" textLength="105">PBuA-LiTFSI</text>
<text x="886.8" y="1096" class="c" textLength="173">SAFE r=8 (This work)</text>
</g>
<ellipse cx="569.8" cy="1007" rx="6.8" ry="7" fill="#3f5ea3"/>
<ellipse cx="569.8" cy="1029.4" rx="6.8" ry="7" fill="#c5a928"/>
<ellipse cx="569.8" cy="1051.9" rx="6.8" ry="7" fill="#457b6c"/>
<ellipse cx="569.8" cy="1073.6" rx="6.8" ry="7" fill="#c8197b"/>
<ellipse cx="569.8" cy="1096" rx="6.8" ry="7" fill="#82a8f5"/>
<ellipse cx="839.6" cy="1007" rx="6.8" ry="7" fill="#8e8c7a"/>
<ellipse cx="839.6" cy="1029.4" rx="6.8" ry="7" fill="#d672b5"/>
<ellipse cx="839.6" cy="1051.9" rx="6.8" ry="7" fill="#d0621f"/>
<ellipse cx="839.6" cy="1073.6" rx="6.8" ry="7" fill="#ddd79b"/>
<ellipse cx="839.6" cy="1096" rx="6.8" ry="7" fill="#ae4441"/>

<!-- ================= PANEL G ================= -->
<text x="1094" y="547.5" class="pl">G</text>
<path d="M1089.3,622 V903.7 M1089.3,961 V1091.7 M1080.6,1018 H1540" stroke="#9a9a9a" stroke-width="3.2" fill="none"/>
<polygon points="1089.3,610 1081.3,625.5 1097.3,625.5" fill="#9a9a9a"/>
<polygon points="1552.7,1018 1538,1010.3 1538,1025.7" fill="#9a9a9a"/>
<rect x="1105.5" y="647.5" width="206" height="113.6" class="gb"/>
<rect x="1331.5" y="647.5" width="205" height="113.6" fill="none" stroke="#b24537" stroke-width="2.6"/>
<rect x="1390.6" y="857" width="146" height="113" class="gb"/>
<circle cx="1499.4" cy="848.4" r="2" fill="#9a9a9a"/>
<g font-size="21.5" fill="#333">
<text x="1208.5" y="666" class="c m" textLength="59">Liquid</text>
<text x="1208.5" y="691.8" class="c m" textLength="176">Electrolyte (LP40)/</text>
<text x="1208.5" y="718.3" class="c m" textLength="139.5">Gel Electrolyte</text>
<text x="1208.5" y="744.1" class="c m" textLength="179">(PVDF-HFP+LP57)</text>
<text x="1434" y="666" class="c m" textLength="172.8">Solvent-Anchored</text>
<text x="1434" y="691.8" class="c m" textLength="151">non-Flammable</text>
<text x="1434" y="718.3" class="c m" textLength="100.7">Electrolyte</text>
<text x="1434" y="744.1" class="c m" font-weight="bold" textLength="67.8">(SAFE)</text>
<text x="1463.5" y="875.3" class="c m" textLength="104">Solid-state</text>
<text x="1463.5" y="901.1" class="c m" textLength="94">Polymeric</text>
<text x="1463.5" y="927.7" class="c m" textLength="100.7">Electrolyte</text>
<text x="1463.5" y="953.5" class="c m" textLength="128">(PEO+LiTFSI)</text>
</g>
<g font-size="21" font-weight="bold" fill="#333">
<text x="1080.6" y="920.3" class="c">Ionic</text>
<text x="1080.6" y="946.1" class="c" textLength="128">Conductivity</text>
<text x="1501" y="1033.8" class="c e">Safety</text>
<text x="1501" y="1059.3" class="c e" textLength="322">(Solvent Violatity/ Flammability)</text>
</g>
</svg>
</body></html>
